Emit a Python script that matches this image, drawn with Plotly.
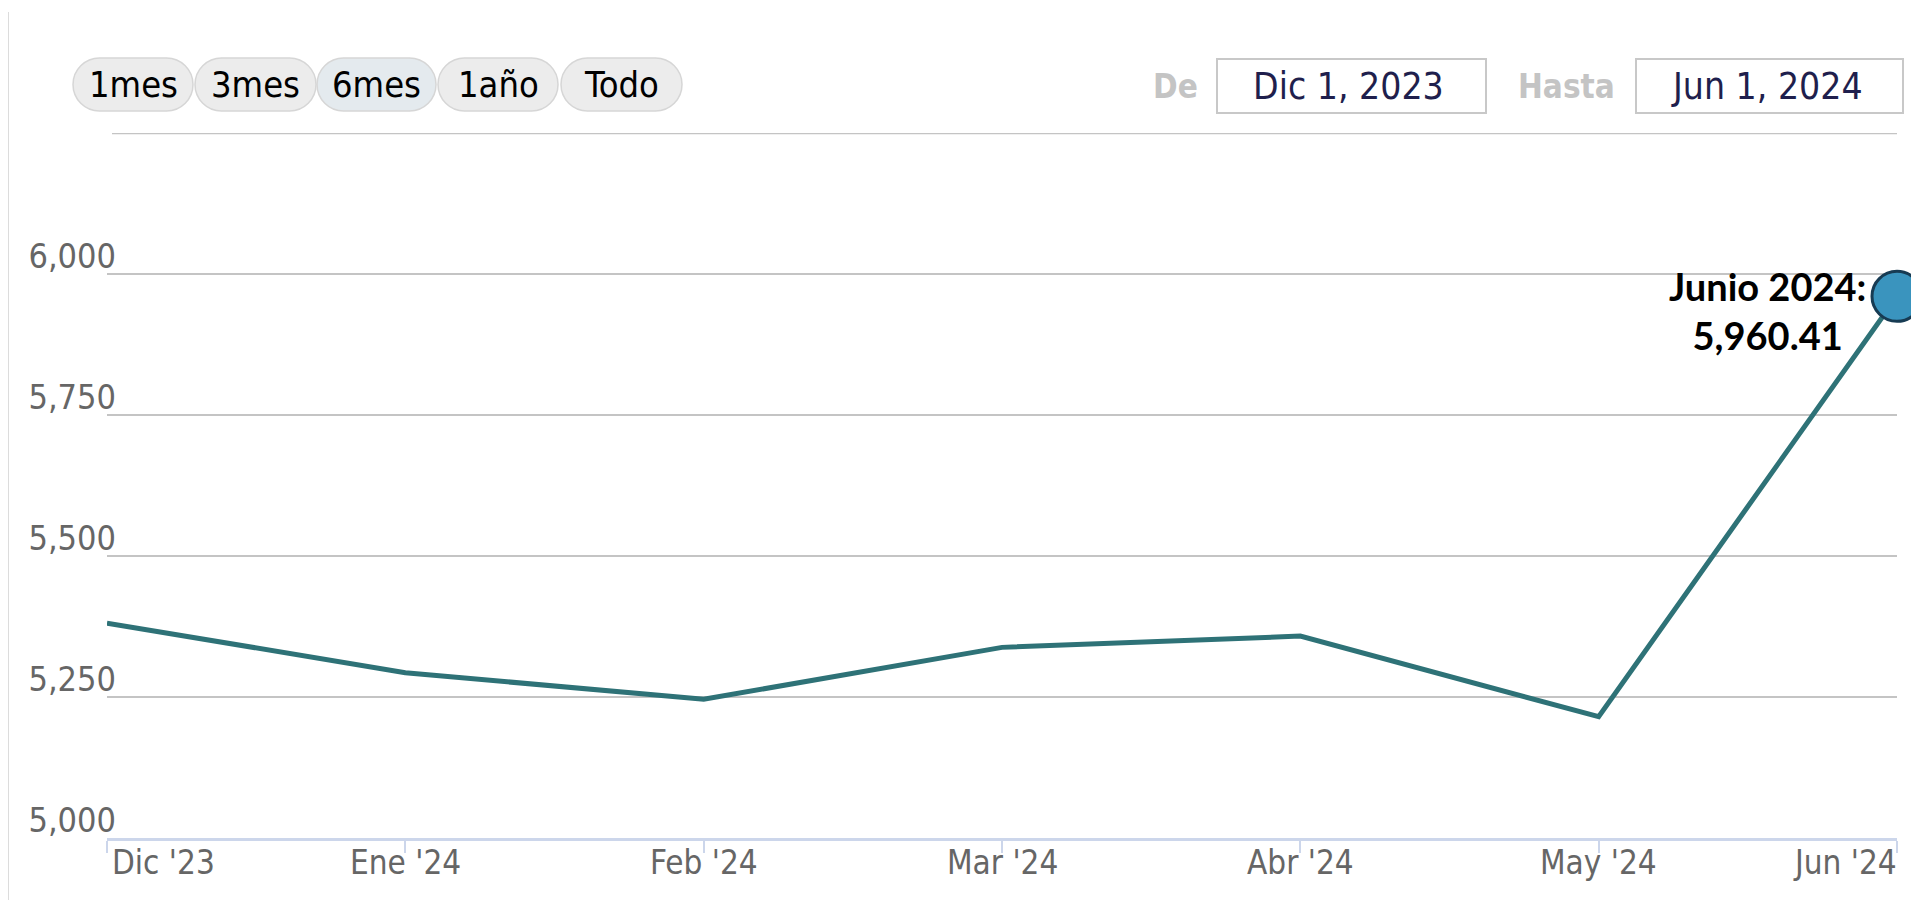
import plotly.graph_objects as go

# ---------------- data ----------------
months = ["Dic '23", "Ene '24", "Feb '24", "Mar '24", "Abr '24", "May '24", "Jun '24"]
values = [5381, 5293, 5246, 5338, 5358, 5215, 5960.41]
y_tickvals = [5000, 5250, 5500, 5750, 6000, 6250]
y_ticktext = ["5,000", "5,250", "5,500", "5,750", "6,000", ""]
range_buttons = ["1mes", "3mes", "6mes", "1año", "Todo"]
selected_button = "6mes"
date_from_label, date_from = "De", "Dic 1, 2023"
date_to_label, date_to = "Hasta", "Jun 1, 2024"
last_label = "Junio 2024:<br>5,960.41"

# ---------------- layout geometry ----------------
# the page body has an 8px default margin, so the figure is drawn at (8, 8)
OFF = 8
W, H = 1919 - OFF, 900 - OFF
L, R, T, B = 99, 22, 125, 62
PW = W - L - R
PH = H - T - B

FONT = "DejaVu Sans Condensed, DejaVu Sans, sans-serif"
GRAY_TXT = "#666666"


def px(x):
    """screen x pixel -> paper x"""
    return (x - OFF - L) / PW


def py(y):
    """screen y pixel -> paper y"""
    return (H - B - (y - OFF)) / PH


def pill_path(x0, x1, y0, y1):
    r = (y1 - y0) / 2.0
    yc = (y0 + y1) / 2.0
    k = 0.5523 * r
    pts = [
        ("M", [(x0 + r, y0)]),
        ("L", [(x1 - r, y0)]),
        ("C", [(x1 - r + k, y0), (x1, yc - k), (x1, yc)]),
        ("C", [(x1, yc + k), (x1 - r + k, y1), (x1 - r, y1)]),
        ("L", [(x0 + r, y1)]),
        ("C", [(x0 + r - k, y1), (x0, yc + k), (x0, yc)]),
        ("C", [(x0, yc - k), (x0 + r - k, y0), (x0 + r, y0)]),
    ]
    s = ""
    for cmd, ps in pts:
        s += cmd + " " + " ".join(f"{px(a):.5f},{py(b):.5f}" for a, b in ps) + " "
    return s + "Z"


fig = go.Figure()

fig.add_trace(go.Scatter(
    x=months, y=values, mode="lines",
    line=dict(color="#2e7277", width=5),
    hoverinfo="x+y", showlegend=False,
))
fig.add_trace(go.Scatter(
    x=[months[-1]], y=[values[-1]], mode="markers",
    marker=dict(size=50, color="#3a94be", line=dict(color="#173b53", width=3)),
    cliponaxis=False, hoverinfo="skip", showlegend=False,
))

shapes = []
annotations = []

# container borders
for xb in (8, 1917):
    shapes.append(dict(type="line", xref="paper", yref="paper",
                       x0=px(xb), x1=px(xb), y0=py(12), y1=py(900),
                       line=dict(color="#dcdcdc", width=2), layer="below"))

# top gridline (6,250) which has no label
shapes.append(dict(type="line", xref="paper", yref="y", x0=px(112), x1=1.0,
                   y0=y_tickvals[-1], y1=y_tickvals[-1],
                   line=dict(color="#c4c4c4", width=2.5), layer="below"))

# range selector buttons (pills)
btn_x = [(73, 193), (195, 316), (317, 436), (438, 558), (561, 682)]
for (bx0, bx1), lab in zip(btn_x, range_buttons):
    sel = lab == selected_button
    shapes.append(dict(type="path", xref="paper", yref="paper",
                       path=pill_path(bx0, bx1, 58, 111),
                       fillcolor="#e4eaee" if sel else "#ececec",
                       line=dict(color="#d6d6d6", width=1.5)))
    annotations.append(dict(xref="paper", yref="paper",
                            x=px((bx0 + bx1) / 2), y=py(85),
                            text=lab, showarrow=False,
                            xanchor="center", yanchor="middle",
                            font=dict(family=FONT, size=36, color="#000000")))

# date inputs
for (lx, lab), (bx0, bx1), val in zip(
        [(1175, date_from_label), (1566, date_to_label)],
        [(1217, 1486), (1636, 1903)],
        [date_from, date_to]):
    annotations.append(dict(xref="paper", yref="paper", x=px(lx), y=py(86),
                            text=f"<b>{lab}</b>", showarrow=False,
                            xanchor="center", yanchor="middle",
                            font=dict(family=FONT, size=33, color="#c4c4c4")))
    shapes.append(dict(type="rect", xref="paper", yref="paper",
                       x0=px(bx0), x1=px(bx1), y0=py(113), y1=py(59),
                       line=dict(color="#c8c8c8", width=2), fillcolor="rgba(0,0,0,0)"))
    annotations.append(dict(xref="paper", yref="paper", x=px((bx0 + bx1) / 2 - 3), y=py(86),
                            text=val, showarrow=False,
                            xanchor="center", yanchor="middle",
                            font=dict(family=FONT, size=37, color="#1f1f4d")))

# x-axis labels (first left-aligned, last right-aligned like the original)
for i, m in enumerate(months):
    if i == 0:
        xa, xs = "left", 3
    elif i == len(months) - 1:
        xa, xs = "right", 2
    else:
        xa, xs = "center", 0
    annotations.append(dict(xref="x", yref="paper", x=m, y=0,
                            text=m, showarrow=False,
                            xanchor=xa, yanchor="top", xshift=xs, yshift=-3,
                            font=dict(family=FONT, size=33, color=GRAY_TXT)))

# last-point label
annotations.append(dict(xref="x", yref="y", x=months[-1], y=values[-1],
                        text=f"<b>{last_label}</b>", showarrow=False,
                        xanchor="center", yanchor="middle", align="center",
                        xshift=-130, yshift=-14,
                        font=dict(family="Lato, Open Sans, sans-serif", size=38, color="#000000")))

fig.update_layout(
    width=W, height=H,
    margin=dict(l=L, r=R, t=T, b=B, autoexpand=False),
    paper_bgcolor="white", plot_bgcolor="white",
    shapes=shapes, annotations=annotations,
    showlegend=False,
    xaxis=dict(
        type="category", range=[0, len(months) - 1],
        showgrid=False, zeroline=False,
        showline=True, linecolor="#ccd6eb", linewidth=3,
        ticks="outside", ticklen=12, tickwidth=2, tickcolor="#ccd6eb",
        showticklabels=False, fixedrange=True,
    ),
    yaxis=dict(
        range=[5000, 6250], tickvals=y_tickvals, ticktext=y_ticktext,
        showgrid=True, gridcolor="#c4c4c4", gridwidth=2,
        zeroline=False, showline=False, ticks="",
        ticklabelshift=-18, ticklabelstandoff=-10,
        tickfont=dict(family=FONT, size=34, color=GRAY_TXT),
        automargin=False, fixedrange=True,
    ),
)

fig.write_html("out.html")
